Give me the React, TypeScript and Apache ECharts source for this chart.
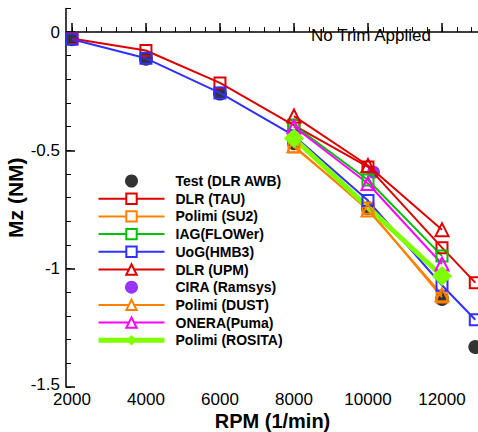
import React, { useEffect, useRef } from "react";
import * as echarts from "echarts";

// ---------- data ----------
const RPM_FULL = [2000, 4000, 6000, 8000, 10000, 12000, 12900];
const RPM_SIM = [8000, 10000, 12000];
const RPM_CIRA = [10150];
const RPM_ROSITA = [8000, 12000];

const TEST_DLR_AWB = [-0.03, -0.113, -0.26, -0.47, -0.745, -1.128, -1.331];
const DLR_TAU = [-0.027, -0.078, -0.215, -0.394, -0.57, -0.911, -1.059];
const POLIMI_SU2 = [-0.486, -0.745, -1.12];
const IAG_FLOWER = [-0.394, -0.625, -0.946];
const UOG_HMB3 = [-0.03, -0.111, -0.257, -0.438, -0.712, -1.07, -1.216];
const DLR_UPM = [-0.355, -0.564, -0.835];
const CIRA_RAMSYS = [-0.592];
const POLIMI_DUST = [-0.48, -0.752, -1.11];
const ONERA_PUMA = [-0.4, -0.64, -0.98];
const POLIMI_ROSITA = [-0.449, -1.031];

const X_MAJOR = [2000, 4000, 6000, 8000, 10000, 12000];
const X_MINOR = [2000, 2400, 2800, 3200, 3600, 4000, 4400, 4800, 5200, 5600, 6000, 6400, 6800, 7200, 7600, 8000, 8400, 8800, 9200, 9600, 10000, 10400, 10800, 11200, 11600, 12000, 12400, 12800];
const Y_MAJOR = [-1.5, -1, -0.5, 0];
const Y_MINOR = [-1.5, -1.4, -1.3, -1.2, -1.1, -1, -0.9, -0.8, -0.7, -0.6, -0.5, -0.4, -0.3, -0.2, -0.1, 0, 0.1];

const FONT = "'Liberation Sans', Arial, Helvetica, sans-serif";

const RED = "#dd0000";
const ORANGE = "#ff8000";
const GREEN = "#00c000";
const BLUE = "#3030ff";
const MAGENTA = "#ff00ff";
const PURPLE = "#8000ff";
const LIME = "#80ff00";

const zip = (xs: number[], ys: number[]) => xs.map((x, i) => [x, ys[i]]);

function hollowLine(name: string, xs: number[], ys: number[], color: string, symbol: string, size: number) {
  return {
    name,
    type: "line",
    data: zip(xs, ys),
    symbol,
    symbolSize: size,
    showAllSymbol: true,
    lineStyle: { color, width: 2 },
    itemStyle: { color: "rgba(0,0,0,0)", borderColor: color, borderWidth: 2 },
    emphasis: { disabled: true },
  };
}

export default function App() {
  const ref = useRef<HTMLDivElement>(null);
  useEffect(() => {
    if (!ref.current) return;
    const chart = echarts.init(ref.current, undefined, { renderer: "svg" });

    const series: any[] = [
      {
        name: "Test (DLR AWB)",
        type: "scatter",
        data: zip(RPM_FULL, TEST_DLR_AWB),
        symbol: "circle",
        symbolSize: 14,
        itemStyle: { color: "#000" },
        emphasis: { disabled: true },
      },
      hollowLine("DLR (TAU)", RPM_FULL, DLR_TAU, RED, "rect", 11),
      hollowLine("Polimi (SU2)", RPM_SIM, POLIMI_SU2, ORANGE, "rect", 11),
      hollowLine("IAG(FLOWer)", RPM_SIM, IAG_FLOWER, GREEN, "rect", 11),
      hollowLine("UoG(HMB3)", RPM_FULL, UOG_HMB3, BLUE, "rect", 11),
      hollowLine("DLR (UPM)", RPM_SIM, DLR_UPM, RED, "triangle", 13),
      {
        name: "CIRA (Ramsys)",
        type: "scatter",
        data: zip(RPM_CIRA, CIRA_RAMSYS),
        symbol: "circle",
        symbolSize: 13,
        itemStyle: { color: PURPLE },
        emphasis: { disabled: true },
      },
      hollowLine("Polimi (DUST)", RPM_SIM, POLIMI_DUST, ORANGE, "triangle", 13),
      hollowLine("ONERA(Puma)", RPM_SIM, ONERA_PUMA, MAGENTA, "triangle", 13),
      {
        name: "Polimi (ROSITA)",
        type: "line",
        data: zip(RPM_ROSITA, POLIMI_ROSITA),
        symbol: "diamond",
        symbolSize: 20,
        lineStyle: { color: LIME, width: 5 },
        itemStyle: { color: LIME },
        emphasis: { disabled: true },
      },
    ];

    const hollow = (c: string) => ({ itemStyle: { color: "#fff", borderColor: c, borderWidth: 2 }, lineStyle: { color: c, width: 2 } });
    const legendData = [
      { name: "Test (DLR AWB)", itemStyle: { color: "#000" } },
      { name: "DLR (TAU)", ...hollow(RED) },
      { name: "Polimi (SU2)", ...hollow(ORANGE) },
      { name: "IAG(FLOWer)", ...hollow(GREEN) },
      { name: "UoG(HMB3)", ...hollow(BLUE) },
      { name: "DLR (UPM)", ...hollow(RED) },
      { name: "CIRA (Ramsys)", itemStyle: { color: PURPLE } },
      { name: "Polimi (DUST)", ...hollow(ORANGE) },
      { name: "ONERA(Puma)", ...hollow(MAGENTA) },
      { name: "Polimi (ROSITA)", itemStyle: { color: LIME, borderWidth: 0 }, lineStyle: { color: LIME, width: 5 } },
    ];

    const axisLine = { show: true, lineStyle: { color: "#000", width: 1.5 } };
    const plain = (v: number) => String(v);

    chart.setOption({
      animation: false,
      backgroundColor: "#fff",
      textStyle: { fontFamily: FONT },
      title: {
        text: "No Trim Applied",
        left: 311,
        top: 27,
        padding: 0,
        textStyle: { fontFamily: FONT, fontSize: 17, fontWeight: "normal", color: "#000" },
      },
      legend: {
        orient: "vertical",
        left: 96,
        top: 174,
        padding: 0,
        itemWidth: 66,
        itemHeight: 13,
        itemGap: 3.7,
        selectedMode: false,
        data: legendData,
        textStyle: { fontFamily: FONT, fontSize: 14, fontWeight: "bold", color: "#000", padding: [0, 0, 0, 6] },
      },
      grid: { left: 66, right: -1, top: 8.4, bottom: 45, containLabel: false, outerBoundsMode: "none" },
      xAxis: [
        {
          type: "value",
          min: 1840,
          max: 13000,
          position: "bottom",
          name: "RPM (1/min)",
          nameLocation: "middle",
          nameGap: 24,
          nameMoveOverlap: false,
          nameTextStyle: { fontFamily: FONT, fontSize: 20, fontWeight: "bold", color: "#000" },
          axisLine,
          splitLine: { show: false },
          axisTick: { show: true, inside: true, length: 9, lineStyle: { color: "#000", width: 1.5 }, customValues: X_MAJOR },
          axisLabel: { show: true, customValues: X_MAJOR, margin: 4, fontFamily: FONT, fontSize: 17, color: "#000", formatter: plain },
        },
        {
          type: "value",
          min: 1840,
          max: 13000,
          position: "bottom",
          axisLine: { show: false },
          splitLine: { show: false },
          axisTick: { show: true, inside: true, length: 5, lineStyle: { color: "#000", width: 1 }, customValues: X_MINOR },
          axisLabel: { show: false },
        },
      ],
      yAxis: [
        {
          type: "value",
          min: -1.5,
          max: 0.1,
          position: "left",
          name: "Mz (NM)",
          nameLocation: "middle",
          nameGap: 40,
          nameMoveOverlap: false,
          nameRotate: 90,
          nameTextStyle: { fontFamily: FONT, fontSize: 21, fontWeight: "bold", color: "#000" },
          axisLine,
          splitLine: { show: false },
          axisTick: { show: true, inside: true, length: 9, lineStyle: { color: "#000", width: 1.5 }, customValues: Y_MAJOR },
          axisLabel: {
            show: true,
            customValues: Y_MAJOR,
            margin: 6,
            fontFamily: FONT,
            fontSize: 17,
            color: "#000",
            formatter: (v: number) => (v === -1.5 ? "{low|-1.5}" : String(v)),
            rich: { low: { fontFamily: FONT, fontSize: 17, color: "#000", padding: [0, 0, 5, 0] } },
          },
        },
        {
          type: "value",
          min: -1.5,
          max: 0.1,
          position: "left",
          axisLine: { show: false },
          splitLine: { show: false },
          axisTick: { show: true, inside: true, length: 5, lineStyle: { color: "#000", width: 1 }, customValues: Y_MINOR },
          axisLabel: { show: false },
        },
      ],
      series,
    });

    return () => chart.dispose();
  }, []);

  return <div ref={ref} style={{ position: "absolute", left: 0, top: 0, width: 478, height: 432 }} />;
}
